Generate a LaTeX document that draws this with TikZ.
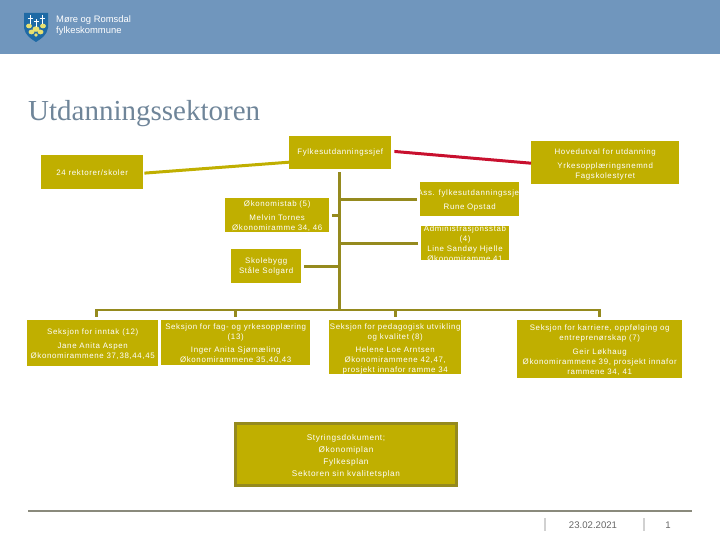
\documentclass[tikz,border=0pt]{standalone}
\usepackage{fontspec}
\setmainfont{Liberation Sans}[LetterSpace=8]
\newfontfamily\titlefont{Liberation Serif}
\newfontfamily\plainfont{Liberation Sans}
\definecolor{hdr}{HTML}{7096BD}
\definecolor{boxc}{HTML}{C0AF00}
\definecolor{conc}{HTML}{958A1E}
\definecolor{redc}{HTML}{C8102E}
\definecolor{titlec}{HTML}{6F8599}
\definecolor{footc}{HTML}{8A8A7C}
\definecolor{shield}{HTML}{1F6AA5}
\definecolor{petal}{HTML}{E8E070}
\newcommand{\tp}[1]{\rule{0pt}{#1pt}}
\tikzset{
  orgbox/.style={fill=boxc,text=white,align=center,inner sep=0pt,anchor=north west,font=\fontsize{7.9}{10}\selectfont},
  conn/.style={draw=conc,line width=2.7pt},
  topline/.style={draw=boxc,line width=3pt},
  redline/.style={draw=redc,line width=3pt},
  sep/.style={draw=black!18,line width=1.2pt}
}
\begin{document}
\begin{tikzpicture}[x=1pt,y=-1pt]
\useasboundingbox (0,0) rectangle (720,540);
\fill[hdr] (0,0) rectangle (720,54);
% logo
\fill[shield] (24,13) -- (48,13) -- (48,28) .. controls (47,35) and (41,39) .. (36,42) .. controls (31,39) and (25,35) .. (24,28) -- cycle;
\fill[petal] (29,26) ellipse (3 and 2.4) (36,29) ellipse (3.4 and 2.8) (43,26) ellipse (3 and 2.4) (31.5,32) ellipse (3 and 2.4) (40.5,32) ellipse (3 and 2.4) (36,35) circle (1.8);
\draw[white,line width=.7pt] (30,15) -- (30,24) (27.5,18) -- (32.5,18) (36,19) -- (36,27) (33.5,21.5) -- (38.5,21.5) (42,15) -- (42,24) (39.5,18) -- (44.5,18);
\node[text=white,anchor=west,inner sep=0pt,font=\plainfont\fontsize{9.4}{10}\selectfont] (mr) at (56,20) {Møre og Romsdal};
\node[text=white,anchor=west,inner sep=0pt,font=\plainfont\fontsize{9.4}{10}\selectfont] (fk) at (56,31) {fylkeskommune};
\node[text=titlec,anchor=base west,inner sep=0pt,font=\titlefont\fontsize{29}{30}\selectfont] (title) at (28,121) {Utdanningssektoren};
% boxes
\node[orgbox,minimum width=102pt,minimum height=34pt] (rekt) at (41,155) {24 rektorer/skoler};
\node[orgbox,minimum width=102pt,minimum height=33pt] (sjef) at (289,136) {Fylkesutdanningssjef};
\node[orgbox,minimum width=148pt,minimum height=43pt] (hov) at (531,141) {\tp{9}Hovedutval for utdanning\\[3.5pt]Yrkesopplæringsnemnd\\Fagskolestyret};
\node[orgbox,minimum width=104pt,minimum height=34pt,text width=104pt] (oko) at (225,198) {\tp{8}Økonomistab (5)\\[3.5pt]Melvin Tornes\\Økonomiramme 34, 46};
\node[orgbox,minimum width=70pt,minimum height=34pt] (bygg) at (231,249) {Skolebygg\\Ståle Solgard};
\node[orgbox,minimum width=99pt,minimum height=34pt,text width=99pt] (ass) at (420,182) {\tp{8}\makebox[99pt][c]{Ass. fylkesutdanningssjef}\\[3.5pt]Rune Opstad};
\node[orgbox,minimum width=88pt,minimum height=34pt,text width=88pt,anchor=north west] (adm) at (421,226) {\vphantom{}};
\node[text=white,align=center,anchor=north,inner sep=0pt,text width=88pt,font=\fontsize{7.9}{10}\selectfont] (admt) at (465,226) {Administrasjonsstab\\(4)\\Line Sandøy Hjelle\\[0pt]Økonomiramme 41};
\node[orgbox,minimum width=131pt,minimum height=46pt,anchor=north west] (inn) at (27,320) {\tp{8}\makebox[131pt][c]{Seksjon for inntak (12)}\\[3.5pt]Jane Anita Aspen\\\makebox[131pt][c]{Økonomirammene 37,38,44,45}};
\node[orgbox,minimum width=149pt,minimum height=45pt] (fag) at (161,320) {\tp{8}Seksjon for fag- og yrkesopplæring\\(13)\\[3.5pt]Inger Anita Sjømæling\\Økonomirammene 35,40,43};
\node[orgbox,minimum width=132pt,minimum height=54pt] (ped) at (329,320) {\tp{8.5}Seksjon for pedagogisk utvikling\\og kvalitet (8)\\[3pt]Helene Loe Arntsen\\Økonomirammene 42,47,\\prosjekt innafor ramme 34};
\node[orgbox,minimum width=165pt,minimum height=58pt] (kar) at (517,320) {\tp{8}Seksjon for karriere, oppfølging og\\entreprenørskap (7)\\[3.5pt]Geir Løkhaug\\Økonomirammene 39, prosjekt innafor\\rammene 34, 41};
\node[orgbox,minimum width=221pt,minimum height=62pt,draw=conc,line width=2.8pt,anchor=center,font=\fontsize{8.2}{12}\selectfont] (styr) at (346,454.5) {\tp{10}Styringsdokument;\\Økonomiplan\\Fylkesplan\\Sektoren sin kvalitetsplan};
% connectors
\coordinate (bus) at (339.5,310);
\coordinate (busl) at (96.5,310);
\coordinate (busr) at (599.5,310);
\coordinate (dropi) at (96.5,316.5);
\draw[topline,shorten <=1pt] ([yshift=-1pt]rekt.east) -- ([yshift=-9.5pt]sjef.west);
\draw[redline,shorten <=3pt] ([yshift=1.5pt]sjef.east) -- ([yshift=-0.5pt]hov.west);
\draw[conn,shorten <=3pt] (sjef.south -| bus) -- (bus);
\draw[conn,shorten <=3pt] (ass.west) -- (ass.west -| bus);
\draw[conn,shorten <=3pt] (adm.west) -- (adm.west -| bus);
\draw[conn,shorten <=3pt] (oko.east) -- (oko.east -| bus);
\draw[conn,shorten <=3pt] (bygg.east) -- (bygg.east -| bus);
\draw[conn,line cap=rect] (busl) -- (busr);
\draw[conn] (busl) -- (dropi);
\draw[conn,shorten >=3.5pt] (fag.north |- bus) -- (fag.north);
\draw[conn,shorten >=3.5pt] (ped.north |- bus) -- (ped.north);
\draw[conn,shorten >=3.5pt] (kar.north |- bus) -- (kar.north);
% footer
\coordinate (fl) at (28,510.7);
\coordinate (fr) at (692,510.7);
\draw[footc,line width=1.6pt] (fl) -- (fr);
\coordinate (s1a) at (545,518);
\coordinate (s1b) at (545,531);
\coordinate (s2a) at (644,518);
\coordinate (s2b) at (644,531);
\draw[sep] (s1a) -- (s1b);
\draw[sep] (s2a) -- (s2b);
\node[text=black!60,inner sep=0pt,font=\plainfont\fontsize{9.6}{10}\selectfont] (date) at (593,525) {23.02.2021};
\node[text=black!60,inner sep=0pt,font=\plainfont\fontsize{9.6}{10}\selectfont] (pg) at (668,525) {1};
\end{tikzpicture}
\end{document}
